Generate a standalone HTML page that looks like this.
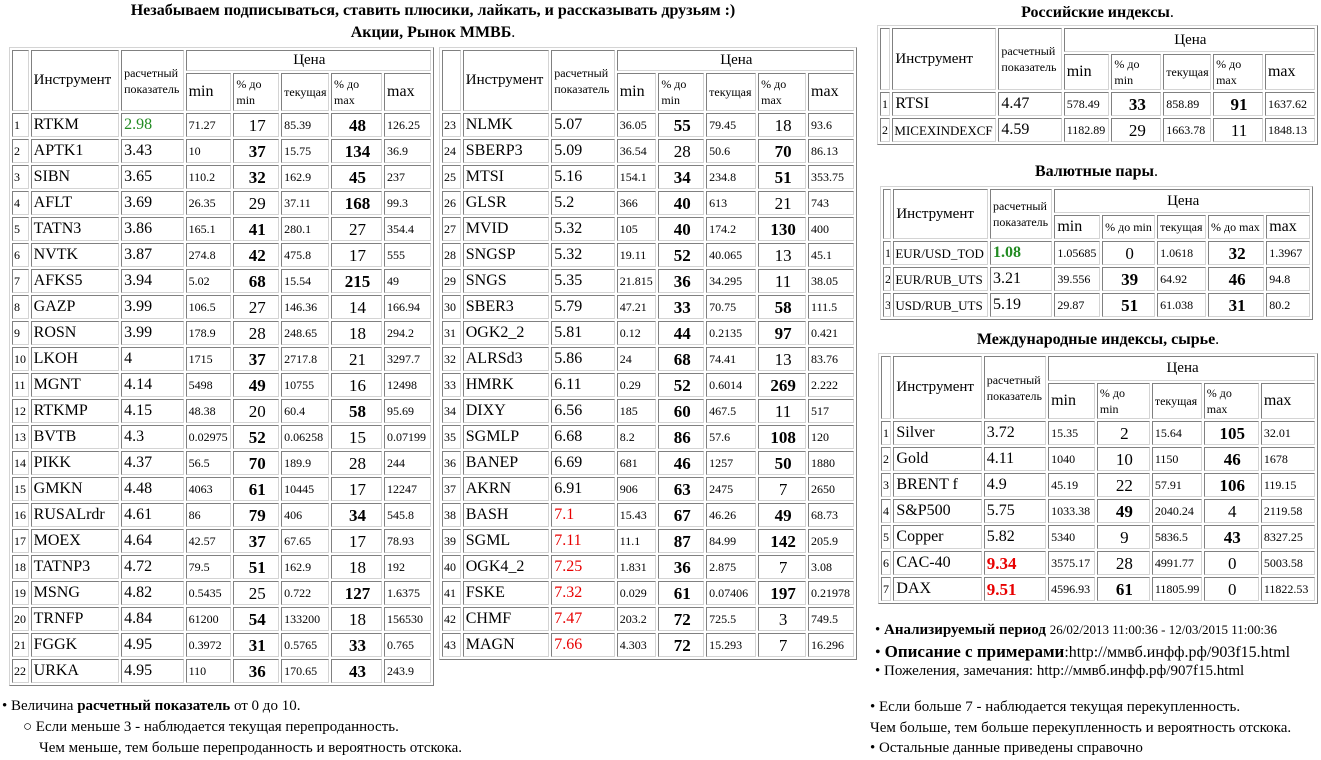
<!DOCTYPE html>
<html><head><meta charset="utf-8">
<style>
body{margin:0;width:1321px;height:760px;background:#fff;font-family:"Liberation Serif","DejaVu Serif",serif;color:#000;position:relative;overflow:hidden}
.t{position:absolute;border-collapse:separate;border-spacing:2px;table-layout:fixed;border:1px solid;border-color:#d4d4d4 #808080 #808080 #d4d4d4}
.t td{border:1px solid;border-color:#808080 #d4d4d4 #d4d4d4 #808080;padding:0 0 0 2px;white-space:nowrap;overflow:hidden;line-height:1;vertical-align:middle;font-size:16px}
.t td.i{font-size:12px;padding-left:1px}
.t td.s{font-size:12px}
.t td.p{text-align:center;font-size:17px}
.t td.b{font-weight:bold}
.t .hd{font-size:15px}
.t .hs{font-size:12px;line-height:16px}
.t tr.r td{height:22px}
.g{color:#228b22}
.rd{color:#e80000}
.ttl{position:absolute;font-weight:bold;font-size:16px;text-align:center;white-space:nowrap}
.tx{position:absolute;white-space:nowrap;font-size:15px}
</style></head><body>

<div class="ttl" style="left:0;width:866px;top:2px">Незабываем подписываться, ставить плюсики, лайкать, и рассказывать друзьям :)</div>
<div class="ttl" style="left:0;width:866px;top:24px">Акции, Рынок ММВБ<span style="font-weight:normal">.</span></div>

<table class="t" style="left:9px;top:47px;width:425px">
<colgroup><col style="width:16px"><col style="width:85px"><col style="width:60px"><col style="width:44px"><col style="width:44px"><col style="width:46px"><col style="width:49px"><col style="width:45px"></colgroup>
<tr><td rowspan="2" style="height:19px"></td><td rowspan="2" class="hd">Инструмент</td><td rowspan="2" class="hs">расчетный<br>показатель</td><td colspan="5" class="hd" style="text-align:center;height:19px">Цена</td></tr>
<tr><td style="height:36px">min</td><td class="hs">% до<br>min</td><td class="s">текущая</td><td class="hs">% до<br>max</td><td>max</td></tr>
<tr class="r"><td class="i">1</td><td>RTKM</td><td class="g">2.98</td><td class="s">71.27</td><td class="p">17</td><td class="s">85.39</td><td class="p b">48</td><td class="s">126.25</td></tr>
<tr class="r"><td class="i">2</td><td>APTK1</td><td>3.43</td><td class="s">10</td><td class="p b">37</td><td class="s">15.75</td><td class="p b">134</td><td class="s">36.9</td></tr>
<tr class="r"><td class="i">3</td><td>SIBN</td><td>3.65</td><td class="s">110.2</td><td class="p b">32</td><td class="s">162.9</td><td class="p b">45</td><td class="s">237</td></tr>
<tr class="r"><td class="i">4</td><td>AFLT</td><td>3.69</td><td class="s">26.35</td><td class="p">29</td><td class="s">37.11</td><td class="p b">168</td><td class="s">99.3</td></tr>
<tr class="r"><td class="i">5</td><td>TATN3</td><td>3.86</td><td class="s">165.1</td><td class="p b">41</td><td class="s">280.1</td><td class="p">27</td><td class="s">354.4</td></tr>
<tr class="r"><td class="i">6</td><td>NVTK</td><td>3.87</td><td class="s">274.8</td><td class="p b">42</td><td class="s">475.8</td><td class="p">17</td><td class="s">555</td></tr>
<tr class="r"><td class="i">7</td><td>AFKS5</td><td>3.94</td><td class="s">5.02</td><td class="p b">68</td><td class="s">15.54</td><td class="p b">215</td><td class="s">49</td></tr>
<tr class="r"><td class="i">8</td><td>GAZP</td><td>3.99</td><td class="s">106.5</td><td class="p">27</td><td class="s">146.36</td><td class="p">14</td><td class="s">166.94</td></tr>
<tr class="r"><td class="i">9</td><td>ROSN</td><td>3.99</td><td class="s">178.9</td><td class="p">28</td><td class="s">248.65</td><td class="p">18</td><td class="s">294.2</td></tr>
<tr class="r"><td class="i">10</td><td>LKOH</td><td>4</td><td class="s">1715</td><td class="p b">37</td><td class="s">2717.8</td><td class="p">21</td><td class="s">3297.7</td></tr>
<tr class="r"><td class="i">11</td><td>MGNT</td><td>4.14</td><td class="s">5498</td><td class="p b">49</td><td class="s">10755</td><td class="p">16</td><td class="s">12498</td></tr>
<tr class="r"><td class="i">12</td><td>RTKMP</td><td>4.15</td><td class="s">48.38</td><td class="p">20</td><td class="s">60.4</td><td class="p b">58</td><td class="s">95.69</td></tr>
<tr class="r"><td class="i">13</td><td>BVTB</td><td>4.3</td><td class="s">0.02975</td><td class="p b">52</td><td class="s">0.06258</td><td class="p">15</td><td class="s">0.07199</td></tr>
<tr class="r"><td class="i">14</td><td>PIKK</td><td>4.37</td><td class="s">56.5</td><td class="p b">70</td><td class="s">189.9</td><td class="p">28</td><td class="s">244</td></tr>
<tr class="r"><td class="i">15</td><td>GMKN</td><td>4.48</td><td class="s">4063</td><td class="p b">61</td><td class="s">10445</td><td class="p">17</td><td class="s">12247</td></tr>
<tr class="r"><td class="i">16</td><td>RUSALrdr</td><td>4.61</td><td class="s">86</td><td class="p b">79</td><td class="s">406</td><td class="p b">34</td><td class="s">545.8</td></tr>
<tr class="r"><td class="i">17</td><td>MOEX</td><td>4.64</td><td class="s">42.57</td><td class="p b">37</td><td class="s">67.65</td><td class="p">17</td><td class="s">78.93</td></tr>
<tr class="r"><td class="i">18</td><td>TATNP3</td><td>4.72</td><td class="s">79.5</td><td class="p b">51</td><td class="s">162.9</td><td class="p">18</td><td class="s">192</td></tr>
<tr class="r"><td class="i">19</td><td>MSNG</td><td>4.82</td><td class="s">0.5435</td><td class="p">25</td><td class="s">0.722</td><td class="p b">127</td><td class="s">1.6375</td></tr>
<tr class="r"><td class="i">20</td><td>TRNFP</td><td>4.84</td><td class="s">61200</td><td class="p b">54</td><td class="s">133200</td><td class="p">18</td><td class="s">156530</td></tr>
<tr class="r"><td class="i">21</td><td>FGGK</td><td>4.95</td><td class="s">0.3972</td><td class="p b">31</td><td class="s">0.5765</td><td class="p b">33</td><td class="s">0.765</td></tr>
<tr class="r"><td class="i">22</td><td>URKA</td><td>4.95</td><td class="s">110</td><td class="p b">36</td><td class="s">170.65</td><td class="p b">43</td><td class="s">243.9</td></tr>
</table>

<table class="t" style="left:439px;top:47px;width:418px">
<colgroup><col style="width:18px"><col style="width:83px"><col style="width:61px"><col style="width:38px"><col style="width:44px"><col style="width:48px"><col style="width:46px"><col style="width:44px"></colgroup>
<tr><td rowspan="2" style="height:19px"></td><td rowspan="2" class="hd">Инструмент</td><td rowspan="2" class="hs">расчетный<br>показатель</td><td colspan="5" class="hd" style="text-align:center;height:19px">Цена</td></tr>
<tr><td style="height:36px">min</td><td class="hs">% до<br>min</td><td class="s">текущая</td><td class="hs">% до<br>max</td><td>max</td></tr>
<tr class="r"><td class="i">23</td><td>NLMK</td><td>5.07</td><td class="s">36.05</td><td class="p b">55</td><td class="s">79.45</td><td class="p">18</td><td class="s">93.6</td></tr>
<tr class="r"><td class="i">24</td><td>SBERP3</td><td>5.09</td><td class="s">36.54</td><td class="p">28</td><td class="s">50.6</td><td class="p b">70</td><td class="s">86.13</td></tr>
<tr class="r"><td class="i">25</td><td>MTSI</td><td>5.16</td><td class="s">154.1</td><td class="p b">34</td><td class="s">234.8</td><td class="p b">51</td><td class="s">353.75</td></tr>
<tr class="r"><td class="i">26</td><td>GLSR</td><td>5.2</td><td class="s">366</td><td class="p b">40</td><td class="s">613</td><td class="p">21</td><td class="s">743</td></tr>
<tr class="r"><td class="i">27</td><td>MVID</td><td>5.32</td><td class="s">105</td><td class="p b">40</td><td class="s">174.2</td><td class="p b">130</td><td class="s">400</td></tr>
<tr class="r"><td class="i">28</td><td>SNGSP</td><td>5.32</td><td class="s">19.11</td><td class="p b">52</td><td class="s">40.065</td><td class="p">13</td><td class="s">45.1</td></tr>
<tr class="r"><td class="i">29</td><td>SNGS</td><td>5.35</td><td class="s">21.815</td><td class="p b">36</td><td class="s">34.295</td><td class="p">11</td><td class="s">38.05</td></tr>
<tr class="r"><td class="i">30</td><td>SBER3</td><td>5.79</td><td class="s">47.21</td><td class="p b">33</td><td class="s">70.75</td><td class="p b">58</td><td class="s">111.5</td></tr>
<tr class="r"><td class="i">31</td><td>OGK2_2</td><td>5.81</td><td class="s">0.12</td><td class="p b">44</td><td class="s">0.2135</td><td class="p b">97</td><td class="s">0.421</td></tr>
<tr class="r"><td class="i">32</td><td>ALRSd3</td><td>5.86</td><td class="s">24</td><td class="p b">68</td><td class="s">74.41</td><td class="p">13</td><td class="s">83.76</td></tr>
<tr class="r"><td class="i">33</td><td>HMRK</td><td>6.11</td><td class="s">0.29</td><td class="p b">52</td><td class="s">0.6014</td><td class="p b">269</td><td class="s">2.222</td></tr>
<tr class="r"><td class="i">34</td><td>DIXY</td><td>6.56</td><td class="s">185</td><td class="p b">60</td><td class="s">467.5</td><td class="p">11</td><td class="s">517</td></tr>
<tr class="r"><td class="i">35</td><td>SGMLP</td><td>6.68</td><td class="s">8.2</td><td class="p b">86</td><td class="s">57.6</td><td class="p b">108</td><td class="s">120</td></tr>
<tr class="r"><td class="i">36</td><td>BANEP</td><td>6.69</td><td class="s">681</td><td class="p b">46</td><td class="s">1257</td><td class="p b">50</td><td class="s">1880</td></tr>
<tr class="r"><td class="i">37</td><td>AKRN</td><td>6.91</td><td class="s">906</td><td class="p b">63</td><td class="s">2475</td><td class="p">7</td><td class="s">2650</td></tr>
<tr class="r"><td class="i">38</td><td>BASH</td><td class="rd">7.1</td><td class="s">15.43</td><td class="p b">67</td><td class="s">46.26</td><td class="p b">49</td><td class="s">68.73</td></tr>
<tr class="r"><td class="i">39</td><td>SGML</td><td class="rd">7.11</td><td class="s">11.1</td><td class="p b">87</td><td class="s">84.99</td><td class="p b">142</td><td class="s">205.9</td></tr>
<tr class="r"><td class="i">40</td><td>OGK4_2</td><td class="rd">7.25</td><td class="s">1.831</td><td class="p b">36</td><td class="s">2.875</td><td class="p">7</td><td class="s">3.08</td></tr>
<tr class="r"><td class="i">41</td><td>FSKE</td><td class="rd">7.32</td><td class="s">0.029</td><td class="p b">61</td><td class="s">0.07406</td><td class="p b">197</td><td class="s">0.21978</td></tr>
<tr class="r"><td class="i">42</td><td>CHMF</td><td class="rd">7.47</td><td class="s">203.2</td><td class="p b">72</td><td class="s">725.5</td><td class="p">3</td><td class="s">749.5</td></tr>
<tr class="r"><td class="i">43</td><td>MAGN</td><td class="rd">7.66</td><td class="s">4.303</td><td class="p b">72</td><td class="s">15.293</td><td class="p">7</td><td class="s">16.296</td></tr>
</table>

<div class="ttl" style="left:877px;width:441px;top:4px">Российские индексы<span style="font-weight:normal">.</span></div>
<table class="t" style="left:877px;top:25px;width:441px">
<colgroup><col style="width:10px"><col style="width:100px"><col style="width:61px"><col style="width:44px"><col style="width:48px"><col style="width:46px"><col style="width:48px"><col style="width:48px"></colgroup>
<tr><td rowspan="2" style="height:22px"></td><td rowspan="2" class="hd">Инструмент</td><td rowspan="2" class="hs">расчетный<br>показатель</td><td colspan="5" class="hd" style="text-align:center;height:22px">Цена</td></tr>
<tr><td style="height:34px">min</td><td class="hs">% до<br>min</td><td class="s">текущая</td><td class="hs">% до<br>max</td><td>max</td></tr>
<tr class="r"><td class="i">1</td><td>RTSI</td><td>4.47</td><td class="s">578.49</td><td class="p b">33</td><td class="s">858.89</td><td class="p b">91</td><td class="s">1637.62</td></tr>
<tr class="r"><td class="i">2</td><td style="font-size:13px;padding-left:1px">MICEXINDEXCF</td><td>4.59</td><td class="s">1182.89</td><td class="p">29</td><td class="s">1663.78</td><td class="p">11</td><td class="s">1848.13</td></tr>
</table>

<div class="ttl" style="left:880px;width:433px;top:163px">Валютные пары<span style="font-weight:normal">.</span></div>
<table class="t" style="left:880px;top:186px;width:433px">
<colgroup><col style="width:8px"><col style="width:91px"><col style="width:60px"><col style="width:44px"><col style="width:51px"><col style="width:47px"><col style="width:54px"><col style="width:42px"></colgroup>
<tr><td rowspan="2" style="height:22px"></td><td rowspan="2" class="hd">Инструмент</td><td rowspan="2" class="hs">расчетный<br>показатель</td><td colspan="5" class="hd" style="text-align:center;height:22px">Цена</td></tr>
<tr><td style="height:22px">min</td><td class="s">% до min</td><td class="s">текущая</td><td class="s">% до max</td><td>max</td></tr>
<tr class="r"><td class="i">1</td><td style="font-size:13px;padding-left:1px">EUR/USD_TOD</td><td class="g b">1.08</td><td class="s">1.05685</td><td class="p">0</td><td class="s">1.0618</td><td class="p b">32</td><td class="s">1.3967</td></tr>
<tr class="r"><td class="i">2</td><td style="font-size:13px;padding-left:1px">EUR/RUB_UTS</td><td>3.21</td><td class="s">39.556</td><td class="p b">39</td><td class="s">64.92</td><td class="p b">46</td><td class="s">94.8</td></tr>
<tr class="r"><td class="i">3</td><td style="font-size:13px;padding-left:1px">USD/RUB_UTS</td><td>5.19</td><td class="s">29.87</td><td class="p b">51</td><td class="s">61.038</td><td class="p b">31</td><td class="s">80.2</td></tr>
</table>

<div class="ttl" style="left:878px;width:440px;top:331px">Международные индексы, сырье<span style="font-weight:normal">.</span></div>
<table class="t" style="left:878px;top:353px;width:440px">
<colgroup><col style="width:10px"><col style="width:85px"><col style="width:60px"><col style="width:45px"><col style="width:51px"><col style="width:48px"><col style="width:53px"><col style="width:52px"></colgroup>
<tr><td rowspan="2" style="height:23px"></td><td rowspan="2" class="hd">Инструмент</td><td rowspan="2" class="hs">расчетный<br>показатель</td><td colspan="5" class="hd" style="text-align:center;height:23px">Цена</td></tr>
<tr><td style="height:34px">min</td><td class="hs">% до<br>min</td><td class="s">текущая</td><td class="hs">% до<br>max</td><td>max</td></tr>
<tr class="r"><td class="i">1</td><td>Silver</td><td>3.72</td><td class="s">15.35</td><td class="p">2</td><td class="s">15.64</td><td class="p b">105</td><td class="s">32.01</td></tr>
<tr class="r"><td class="i">2</td><td>Gold</td><td>4.11</td><td class="s">1040</td><td class="p">10</td><td class="s">1150</td><td class="p b">46</td><td class="s">1678</td></tr>
<tr class="r"><td class="i">3</td><td>BRENT f</td><td>4.9</td><td class="s">45.19</td><td class="p">22</td><td class="s">57.91</td><td class="p b">106</td><td class="s">119.15</td></tr>
<tr class="r"><td class="i">4</td><td>S&amp;P500</td><td>5.75</td><td class="s">1033.38</td><td class="p b">49</td><td class="s">2040.24</td><td class="p">4</td><td class="s">2119.58</td></tr>
<tr class="r"><td class="i">5</td><td>Copper</td><td>5.82</td><td class="s">5340</td><td class="p">9</td><td class="s">5836.5</td><td class="p b">43</td><td class="s">8327.25</td></tr>
<tr class="r"><td class="i">6</td><td>CAC-40</td><td class="rd b" style="font-size:17px">9.34</td><td class="s">3575.17</td><td class="p">28</td><td class="s">4991.77</td><td class="p">0</td><td class="s">5003.58</td></tr>
<tr class="r"><td class="i">7</td><td>DAX</td><td class="rd b" style="font-size:17px">9.51</td><td class="s">4596.93</td><td class="p b">61</td><td class="s">11805.99</td><td class="p">0</td><td class="s">11822.53</td></tr>
</table>

<div class="tx" style="left:875px;top:622px">• <b>Анализируемый период</b> <span style="font-size:13px">26/02/2013 11:00:36 - 12/03/2015 11:00:36</span></div>
<div class="tx" style="left:875px;top:642px;font-size:16px">• <b style="font-size:17px">Описание с примерами</b>:http://ммвб.инфф.рф/903f15.html</div>
<div class="tx" style="left:875px;top:663px">• Пожеления, замечания: http://ммвб.инфф.рф/907f15.html</div>
<div class="tx" style="left:870px;top:699px">• Если больше 7 - наблюдается текущая перекупленность.</div>
<div class="tx" style="left:870px;top:720px">Чем больше, тем больше перекупленность и вероятность отскока.</div>
<div class="tx" style="left:870px;top:740px">• Остальные данные приведены справочно</div>

<div class="tx" style="left:2px;top:698px">• Величина <b>расчетный показатель</b> от 0 до 10.</div>
<div class="tx" style="left:23px;top:719px">○ Если меньше 3 - наблюдается текущая перепроданность.</div>
<div class="tx" style="left:39px;top:740px">Чем меньше, тем больше перепроданность и вероятность отскока.</div>
</body></html>
